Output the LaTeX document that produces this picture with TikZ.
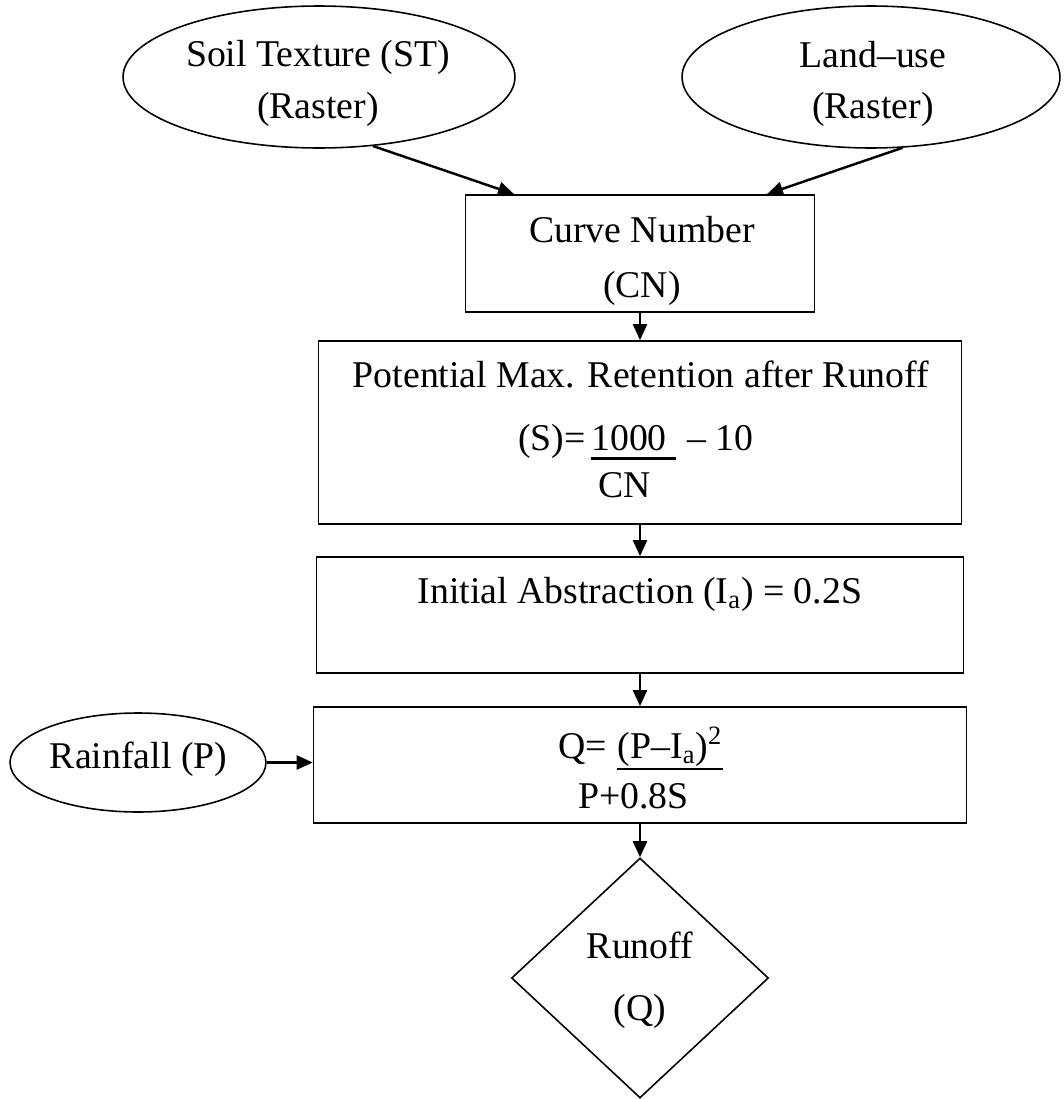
\documentclass[tikz,border=0pt]{standalone}
\usepackage{fontspec}
\setmainfont{Liberation Serif}
\usetikzlibrary{shapes.geometric,arrows.meta,positioning}
\tikzset{
  box/.style={draw,line width=1pt,inner sep=0pt},
  oval/.style={draw,ellipse,line width=0.9pt,inner sep=0pt},
  decision/.style={draw,diamond,line width=0.9pt,inner sep=0pt},
  lbl/.style={anchor=base,inner sep=0pt},
  flow/.style={line width=1.4pt,-{Triangle[length=0.32cm,width=0.28cm]}},
  bar/.style={line width=1.3pt}
}
\begin{document}
\begin{tikzpicture}[x=0.02cm,y=-0.02cm,font=\fontsize{21.5}{25}\selectfont]
\useasboundingbox (0,0) rectangle (1064,1099);
% input layers
\node[oval,minimum width=7.84cm,minimum height=2.84cm] (st) at (319,77) {};
\node[lbl] (stA) at (318,66) {Soil Texture (ST)};
\node[lbl] (stB) at (318,118) {(Raster)};
\node[oval,minimum width=7.56cm,minimum height=2.84cm] (lu) at (871,77) {};
\node[lbl] (luA) at (873,67) {Land--use};
\node[lbl] (luB) at (873,118) {(Raster)};
% curve number
\node[box,minimum width=6.98cm,minimum height=2.34cm] (cn) at (640,253.5) {};
\node[lbl] (cnA) at (642,242) {Curve Number};
\node[lbl] (cnB) at (642,297) {(CN)};
% retention
\node[box,minimum width=12.86cm,minimum height=3.66cm] (smax) at (640,432.5) {};
\node[lbl] (smaxA) at (641,387) {Potential Max. Retention after Runoff};
\node[lbl] (s1000) at (629,450) {1000};
\node[lbl,base left=0.1cm of s1000] (sLhs) {(S)=};
\node[lbl,base right=0.4cm of s1000] (sRest) {-- 10};
\node[lbl] (sCN) at (624.5,497) {CN};
\draw[bar] ([yshift=-0.17cm]s1000.base west) -- ([xshift=0.18cm,yshift=-0.17cm]s1000.base east);
% initial abstraction
\node[box,minimum width=12.94cm,minimum height=2.32cm] (ia) at (640,615) {};
\node[lbl] (iaA) at (640,603) {Initial Abstraction (I\textsubscript{a}) = 0.2S};
% runoff equation
\node[box,minimum width=13.06cm,minimum height=2.32cm] (qbox) at (640,765) {};
\node[lbl] (qNum) at (670,758) {(P--I\textsubscript{a})\textsuperscript{2}};
\node[lbl,base left=0.2cm of qNum] (qLhs) {Q=};
\node[lbl] (qDen) at (633.5,808) {P+0.8S};
\draw[bar] ([yshift=-0.22cm]qNum.base west) -- ([yshift=-0.22cm]qNum.base east);
\node[oval,minimum width=5.12cm,minimum height=1.98cm] (rain) at (138,762.5) {};
\node[lbl] (rainA) at (138.5,768) {Rainfall (P)};
% output
\node[decision,minimum width=5.14cm,minimum height=4.8cm] (runoff) at (640,978) {};
\node[lbl] (roA) at (640,958) {Runoff};
\node[lbl] (roB) at (640,1020) {(Q)};
% connectors
\draw[flow] (st.-52) -- ([xshift=-2.52cm]cn.north);
\draw[flow] (lu.-66) -- ([xshift=2.54cm]cn.north);
\draw[flow] (cn.south) -- (smax.north);
\draw[flow] (smax.south) -- (ia.north);
\draw[flow] (ia.south) -- (qbox.north);
\draw[flow] (rain.east) -- (rain.east -| qbox.west);
\draw[flow] (qbox.south) -- (runoff.north);
\end{tikzpicture}
\end{document}
